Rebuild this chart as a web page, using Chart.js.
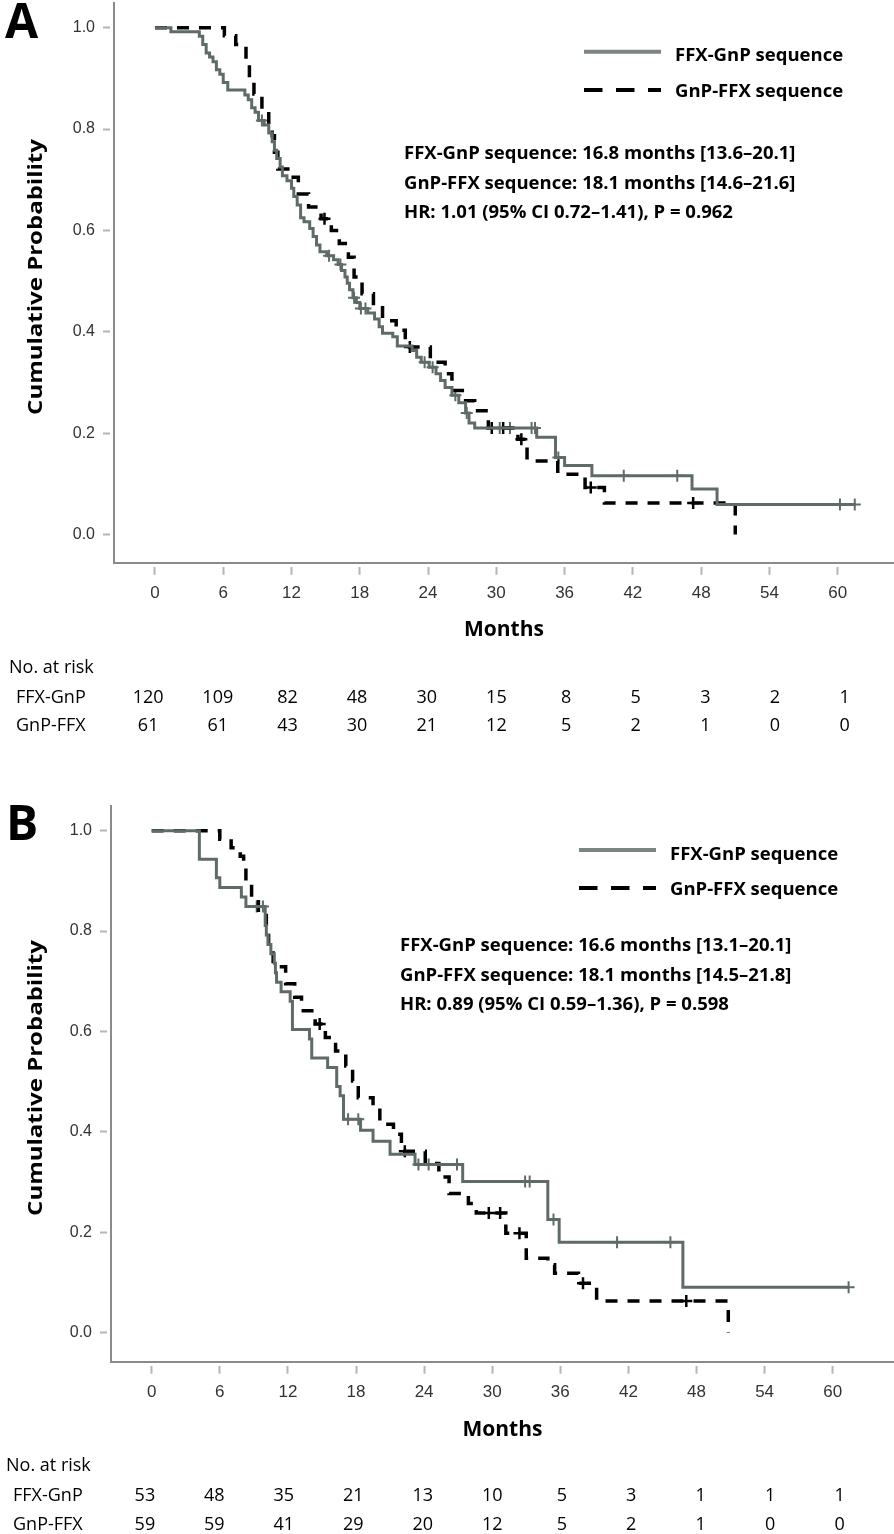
<!DOCTYPE html>
<html><head><meta charset="utf-8">
<script src="https://cdn.jsdelivr.net/npm/chart.js@4.4.1/dist/chart.umd.min.js"></script>
<style>
html,body{margin:0;padding:0;background:#fff;}
#wrap{position:relative;width:894px;height:1534px;overflow:hidden;background:#fff;}
canvas{position:absolute;left:0;}
.t{position:absolute;white-space:nowrap;font-family:"Open Sans",sans-serif;line-height:1;color:#000;}
</style></head><body><div id="wrap">
<canvas id="ca" width="894" height="660" style="top:0px"></canvas>
<canvas id="cb" width="894" height="660" style="top:800px"></canvas>
</div>
<script>
// ---------- data ----------
const monthTicks = [0, 6, 12, 18, 24, 30, 36, 42, 48, 54, 60];
const probTicks = [0, 0.2, 0.4, 0.6, 0.8, 1.0];
const seriesNames = ['FFX-GnP sequence', 'GnP-FFX sequence'];
const riskGroups = ['FFX-GnP', 'GnP-FFX'];
const xTitle = 'Months';
const yTitle = 'Cumulative Probability';

// Panel A
const aFfxT = [0, 1.4, 3.9, 4.2, 4.5, 4.8, 5.1, 5.4, 5.7, 6.0, 6.4, 7.9, 8.2, 8.5, 8.8, 9.1, 9.6, 10.0, 10.3, 10.5, 10.7, 11.0, 11.2, 11.6, 12.0, 12.2, 12.5, 12.8, 13.1, 13.6, 13.9, 14.2, 14.5, 15.1, 15.7, 16.1, 16.4, 16.7, 16.9, 17.1, 17.4, 17.7, 18.0, 18.7, 19.3, 19.7, 20.0, 20.9, 21.3, 22.6, 23.0, 23.4, 24.1, 24.7, 25.1, 25.5, 26.1, 26.7, 27.3, 27.6, 28.1, 33.55, 35.2, 36.0, 38.4, 47.2, 49.4, 61.6];
const aFfxS = [1, 0.992, 0.983, 0.967, 0.950, 0.942, 0.933, 0.917, 0.908, 0.892, 0.877, 0.867, 0.858, 0.842, 0.833, 0.817, 0.808, 0.792, 0.775, 0.758, 0.742, 0.725, 0.708, 0.698, 0.683, 0.667, 0.650, 0.625, 0.617, 0.604, 0.588, 0.571, 0.558, 0.550, 0.542, 0.533, 0.521, 0.508, 0.496, 0.483, 0.467, 0.458, 0.446, 0.437, 0.425, 0.410, 0.397, 0.390, 0.372, 0.363, 0.350, 0.340, 0.330, 0.317, 0.304, 0.290, 0.275, 0.260, 0.240, 0.220, 0.210, 0.192, 0.152, 0.136, 0.116, 0.090, 0.059, 0.059];
const aFfxCens = [9.4, 15.3, 16.3, 17.5, 18.1, 18.5, 23.7, 24.4, 26.4, 27.4, 30.3, 31.2, 33.1, 33.4, 35.45, 41.2, 45.9, 60.2, 61.5];
const aGnpT = [0, 6.1, 7.1, 8.0, 8.3, 8.7, 9.4, 10.0, 10.3, 10.5, 10.8, 11.9, 12.6, 13.5, 14.6, 15.5, 16.2, 17.0, 17.5, 18.2, 19.2, 20.0, 21.2, 22.0, 24.2, 25.5, 26.1, 27.3, 28.1, 29.3, 31.9, 32.7, 35.4, 37.8, 39.5, 51.0];
const aGnpS = [1, 0.984, 0.967, 0.934, 0.902, 0.869, 0.836, 0.803, 0.787, 0.754, 0.721, 0.705, 0.672, 0.646, 0.623, 0.600, 0.574, 0.547, 0.508, 0.475, 0.452, 0.422, 0.403, 0.370, 0.340, 0.317, 0.284, 0.264, 0.244, 0.210, 0.188, 0.145, 0.119, 0.093, 0.062, 0.0];
const aGnpCens = [14.9, 22.4, 29.6, 30.6, 32.2, 38.3, 47.3];
const aRiskFfx = [120, 109, 82, 48, 30, 15, 8, 5, 3, 2, 1];
const aRiskGnp = [61, 61, 43, 30, 21, 12, 5, 2, 1, 0, 0];
const aStats = ['FFX-GnP sequence: 16.8 months [13.6\u201320.1]', 'GnP-FFX sequence: 18.1 months [14.6\u201321.6]', 'HR: 1.01 (95% CI 0.72\u20131.41), P = 0.962'];

// Panel B
const bFfxT = [0, 4.2, 5.7, 6.0, 7.9, 8.3, 10.0, 10.1, 10.25, 10.5, 10.8, 10.9, 11.0, 11.4, 12.2, 12.4, 13.9, 14.1, 15.5, 16.3, 16.6, 16.9, 18.4, 19.5, 21.0, 23.2, 27.4, 34.9, 35.9, 46.8, 61.4];
const bFfxS = [1, 0.943, 0.906, 0.887, 0.868, 0.849, 0.811, 0.792, 0.773, 0.755, 0.736, 0.717, 0.698, 0.679, 0.660, 0.604, 0.585, 0.547, 0.528, 0.490, 0.472, 0.425, 0.403, 0.381, 0.355, 0.335, 0.301, 0.225, 0.180, 0.090, 0.090];
const bFfxCens = [9.25, 9.8, 17.3, 18.2, 23.5, 24.4, 26.9, 32.9, 33.3, 35.4, 41.0, 45.7, 61.4];
const bGnpT = [0, 6.0, 7.0, 7.8, 8.1, 8.3, 8.8, 9.4, 10.1, 10.3, 10.7, 11.8, 12.6, 13.2, 14.4, 15.3, 16.2, 17.1, 17.7, 18.2, 19.5, 20.1, 21.3, 22.0, 24.1, 25.3, 26.2, 27.9, 28.6, 31.2, 33.0, 34.9, 35.5, 37.6, 39.2, 50.8];
const bGnpS = [1, 0.983, 0.966, 0.949, 0.932, 0.898, 0.864, 0.831, 0.797, 0.763, 0.729, 0.695, 0.668, 0.641, 0.615, 0.588, 0.561, 0.531, 0.501, 0.468, 0.448, 0.415, 0.395, 0.361, 0.337, 0.310, 0.277, 0.257, 0.238, 0.198, 0.148, 0.135, 0.118, 0.098, 0.063, 0.0];
const bGnpCens = [14.8, 22.3, 29.7, 30.7, 32.4, 38.0, 47.1];
const bRiskFfx = [53, 48, 35, 21, 13, 10, 5, 3, 1, 1, 1];
const bRiskGnp = [59, 59, 41, 29, 20, 12, 5, 2, 1, 0, 0];
const bStats = ['FFX-GnP sequence: 16.6 months [13.1\u201320.1]', 'GnP-FFX sequence: 18.1 months [14.5\u201321.8]', 'HR: 0.89 (95% CI 0.59\u20131.36), P = 0.598'];

// ---------- styles ----------
const GRAY = '#5f6c66';
const LEG_GRAY = '#7d8580';
const AXIS = '#8a8a8a';
const wrap = document.getElementById('wrap');

function toXY(T, S) { return T.map((t, i) => ({ x: t, y: S[i] })); }
function survAt(T, S, t) { let s = S[0]; for (let i = 0; i < T.length; i++) { if (T[i] <= t) s = S[i]; else break; } return s; }
function censXY(C, T, S) { return C.map(t => ({ x: t, y: survAt(T, S, t) })); }

function addText(txt, x, cy, size, weight, align, extra) {
  const d = document.createElement('div');
  d.className = 't';
  d.textContent = txt;
  d.style.fontSize = size + 'px';
  d.style.fontWeight = weight;
  d.style.top = (cy - 0.531 * size) + 'px';
  d.style.left = x + 'px';
  if (align === 'center') d.style.transform = 'translateX(-50%)';
  if (extra) extra(d);
  wrap.appendChild(d);
  return d;
}

function addYTitle(cx, cy) {
  const d = document.createElement('div');
  d.className = 't';
  d.textContent = yTitle;
  d.style.fontSize = '20px';
  d.style.fontWeight = 700;
  d.style.lineHeight = '24px';
  d.style.left = cx + 'px';
  d.style.top = cy + 'px';
  d.style.transformOrigin = '0 0';
  d.style.transform = 'rotate(-90deg) scaleX(1.2) translate(-50%,-50%)';
  wrap.appendChild(d);
}

function makePanel(cfg) {
  const legendPlugin = {
    id: 'kmLegend',
    afterDraw(chart) {
      const ctx = chart.ctx;
      ctx.save();
      ctx.lineWidth = 4;
      ctx.strokeStyle = LEG_GRAY;
      ctx.beginPath(); ctx.moveTo(cfg.leg.x1, cfg.leg.y1); ctx.lineTo(cfg.leg.x2, cfg.leg.y1); ctx.stroke();
      ctx.strokeStyle = '#000';
      ctx.setLineDash([18.5, 13.5]);
      ctx.beginPath(); ctx.moveTo(cfg.leg.x1, cfg.leg.y2); ctx.lineTo(cfg.leg.x2, cfg.leg.y2); ctx.stroke();
      ctx.restore();
    }
  };
  const zeroPad = s => { s.paddingTop = 0; s.paddingBottom = 0; s.paddingLeft = 0; s.paddingRight = 0; };
  const chart = new Chart(document.getElementById(cfg.id), {
    type: 'line',
    data: {
      datasets: [
        { label: seriesNames[0], data: toXY(cfg.ffxT, cfg.ffxS), stepped: 'before', borderColor: GRAY, borderWidth: 3, pointRadius: 0, fill: false },
        { label: seriesNames[1], data: toXY(cfg.gnpT, cfg.gnpS), stepped: 'before', borderColor: '#000', borderWidth: 3.5, borderDash: [12, 10], pointRadius: 0, fill: false },
        { label: 'cens1', data: censXY(cfg.ffxC, cfg.ffxT, cfg.ffxS), showLine: false, pointStyle: 'cross', pointRadius: 6, pointBorderWidth: 2, borderColor: GRAY, pointBorderColor: GRAY },
        { label: 'cens2', data: censXY(cfg.gnpC, cfg.gnpT, cfg.gnpS), showLine: false, pointStyle: 'cross', pointRadius: 6, pointBorderWidth: 2.5, borderColor: '#000', pointBorderColor: '#000' }
      ]
    },
    options: {
      responsive: false,
      animation: false,
      events: [],
      layout: { autoPadding: false, padding: { top: cfg.padTop, left: 0, right: 0, bottom: 0 } },
      plugins: { legend: { display: false }, tooltip: { enabled: false } },
      scales: {
        x: {
          type: 'linear', min: cfg.xmin, max: cfg.xmax,
          afterBuildTicks: s => { s.ticks = monthTicks.map(v => ({ value: v })); },
          afterFit: s => { s.height = cfg.xh; zeroPad(s); },
          ticks: { autoSkip: false, maxRotation: 0, padding: 8, color: '#333', font: { family: '"Liberation Sans", Arial, sans-serif', size: 17 } },
          grid: { drawOnChartArea: false, drawTicks: true, tickLength: 12, tickColor: '#b5b5b5', tickWidth: 2, tickBorderDash: [0, 3, 8, 100] },
          border: { display: true, color: AXIS, width: 2 },
          title: { display: true, text: xTitle, color: '#000', font: { family: '"Open Sans", sans-serif', weight: 'bold', size: 21 }, padding: { top: 0, bottom: 17.4 } }
        },
        y: {
          type: 'linear', min: cfg.ymin, max: cfg.ymax,
          afterBuildTicks: s => { s.ticks = probTicks.map(v => ({ value: v })); },
          afterFit: s => { s.width = cfg.yw; zeroPad(s); },
          ticks: { padding: 8, color: '#333', font: { family: '"Liberation Sans", Arial, sans-serif', size: 16 }, callback: v => Number(v).toFixed(1) },
          grid: { drawOnChartArea: false, drawTicks: true, tickLength: 11, tickColor: '#b5b5b5', tickWidth: 2, tickBorderDash: [7, 100] },
          border: { display: true, color: AXIS, width: 2 },
          title: { display: false }
        }
      }
    },
    plugins: [legendPlugin]
  });

  // HTML texts
  const top = cfg.top;
  addYTitle(35, top + cfg.yTitleY);
  addText(cfg.letter, cfg.letterX, top + cfg.letterY, 48, 700, 'left');
  addText(seriesNames[0], cfg.legTextX, top + cfg.leg.t1, 18.5, 700, 'left');
  addText(seriesNames[1], cfg.legTextX, top + cfg.leg.t2, 18.5, 700, 'left');
  cfg.stats.forEach((s, i) => addText(s, cfg.statX, top + cfg.statY[i], 18.5, 700, 'left'));
  addText('No. at risk', cfg.riskLabelX, cfg.riskY[0], 18, 400, 'left');
  addText(riskGroups[0], cfg.riskLabelX + 7, cfg.riskY[1], 18, 400, 'left');
  addText(riskGroups[1], cfg.riskLabelX + 7, cfg.riskY[2], 18, 400, 'left');
  const xs = chart.scales.x;
  monthTicks.forEach((m, i) => {
    const px = xs.getPixelForValue(m) - 6.8 + 1.38 * i;
    addText(String(cfg.riskF[i]), px, cfg.riskY[1], 18, 400, 'center');
    addText(String(cfg.riskG[i]), px, cfg.riskY[2], 18, 400, 'center');
  });
  return chart;
}

makePanel({
  id: 'ca', top: 0, padTop: 3, xh: 97.3, yw: 114,
  xmin: -3.6, xmax: 64.95, ymin: -0.0556, ymax: 1.0487,
  ffxT: aFfxT, ffxS: aFfxS, ffxC: aFfxCens, gnpT: aGnpT, gnpS: aGnpS, gnpC: aGnpCens,
  riskF: aRiskFfx, riskG: aRiskGnp, stats: aStats,
  letter: 'A', letterX: 5, letterY: 21, yTitleY: 277,
  leg: { x1: 584, x2: 661, y1: 51.7, y2: 90, t1: 55, t2: 90.8 }, legTextX: 675,
  statX: 404, statY: [153.3, 183.3, 211.7],
  riskLabelX: 9, riskY: [667, 696.3, 724.5]
});
makePanel({
  id: 'cb', top: 800, padTop: 6, xh: 98.3, yw: 111,
  xmin: -3.586, xmax: 65.40, ymin: -0.0582, ymax: 1.0492,
  ffxT: bFfxT, ffxS: bFfxS, ffxC: bFfxCens, gnpT: bGnpT, gnpS: bGnpS, gnpC: bGnpCens,
  riskF: bRiskFfx, riskG: bRiskGnp, stats: bStats,
  letter: 'B', letterX: 6, letterY: 23, yTitleY: 278,
  leg: { x1: 579, x2: 656, y1: 50, y2: 88, t1: 53.5, t2: 89 }, legTextX: 670,
  statX: 400, statY: [145, 175, 204],
  riskLabelX: 6, riskY: [1465, 1495, 1523.3]
});
</script></body></html>
